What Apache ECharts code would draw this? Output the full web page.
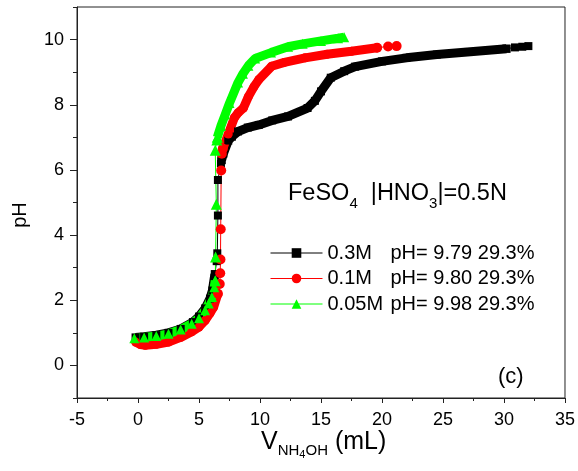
<!DOCTYPE html>
<html>
<head>
<meta charset="utf-8">
<script src="https://cdn.jsdelivr.net/npm/echarts@6/dist/echarts.min.js"></script>
<style>
  html, body { margin: 0; padding: 0; background: #fff; }
  #main { width: 578px; height: 471px; }
</style>
</head>
<body>
<div id="main"></div>
<script>
// legend text parts
var concLabels = ['0.3M', '0.1M', '0.05M'];
var finalPH = ['9.79', '9.80', '9.98'];
var percents = ['29.3%', '29.3%', '29.3%'];

// 0.3M (black squares) : [V (mL), pH]
var blackAcid = [[-0.2, 0.86], [0.5, 0.88], [1.5, 0.93], [2.5, 1.0], [3.5, 1.12], [4.5, 1.33], [5, 1.5], [5.5, 1.75], [5.9, 2.05], [6.1, 2.3], [6.3, 2.8]];
var blackJump = [[6.45, 3.2], [6.5, 3.44], [6.55, 4.6], [6.55, 5.69], [6.8, 6.2]];
var blackBase = [[6.85, 6.3], [7.0, 6.5], [7.4, 6.9], [7.7, 7.02], [8.2, 7.18], [9.0, 7.3], [9.9, 7.38], [11, 7.52], [12.3, 7.64], [13.9, 7.9], [14.5, 8.12], [15, 8.41], [15.8, 8.83], [16.9, 9.03], [17.8, 9.17], [20, 9.33], [22, 9.44], [24.5, 9.54], [27, 9.62], [30.2, 9.72]];
var blackTail = [[30.9, 9.76], [31.5, 9.78], [32, 9.8]];

// 0.1M (red circles)
var redAcid = [[-0.2, 0.72], [0.2, 0.64], [0.6, 0.62], [1.5, 0.65], [2.5, 0.72], [3.5, 0.86], [4.4, 1.03], [5, 1.18], [5.5, 1.38], [5.9, 1.6], [6.2, 1.79], [6.55, 2.2]];
var redJump = [[6.7, 2.5], [6.74, 2.83], [6.76, 3.25], [6.78, 4.18], [6.82, 5.98], [6.87, 6.5]];
var redBase = [[6.95, 6.65], [7.4, 7.1], [7.9, 7.6], [8.2, 7.75], [8.64, 7.9], [9.05, 8.25], [9.5, 8.55], [9.9, 8.77], [10.95, 9.18], [12, 9.3], [13.7, 9.44], [15.5, 9.55], [17.5, 9.64], [19.6, 9.75]];
var redTail = [[20.5, 9.79], [21.2, 9.8]];

// 0.05M (green triangles)
var greenAcid = [[-0.3, 0.83], [0.5, 0.86], [1.5, 0.9], [2.5, 0.97], [3.5, 1.1], [4.4, 1.28], [5, 1.45], [5.5, 1.69], [5.8, 1.9], [6.06, 2.1], [6.25, 2.4], [6.33, 2.6]];
var greenJump = [[6.36, 3.33], [6.42, 4.95], [6.33, 6.6], [6.46, 6.92]];
var greenBase = [[6.5, 7.0], [6.8, 7.35], [7.15, 7.7], [7.5, 8.05], [8.2, 8.68], [8.6, 8.95], [9.05, 9.2], [9.6, 9.42], [10.9, 9.6], [12.3, 9.78], [13.5, 9.87], [15, 9.96], [16.4, 10.04], [16.9, 10.07]];

var font = 'Liberation Sans, Arial, sans-serif';
var chart = echarts.init(document.getElementById('main'));

// dense part of a curve: overlapping markers drawn as a thick band
function band(data, color, symbol, size) {
  return {
    type: 'line', data: data, silent: true,
    symbol: symbol, symbolSize: size, showAllSymbol: true,
    itemStyle: { color: color },
    lineStyle: { color: color, width: 9 },
    emphasis: { disabled: true }
  };
}
function thin(name, data, color, symbol, size) {
  return {
    type: 'line', name: name, data: data, silent: true,
    symbol: symbol, symbolSize: size, showAllSymbol: true,
    itemStyle: { color: color },
    lineStyle: { color: color, width: 1 },
    emphasis: { disabled: true }
  };
}

var names = concLabels.map(function (c, i) { return c + ' pH= ' + finalPH[i] + ' ' + percents[i]; });

var option = {
  animation: false,
  grid: { left: 77, right: 10, top: 7, bottom: 73, show: true, borderColor: '#222', borderWidth: 1 },
  xAxis: {
    type: 'value', min: -5, max: 35, interval: 5,
    axisLine: { onZero: false, lineStyle: { color: '#222', width: 1 } },
    axisTick: { length: 5, lineStyle: { color: '#222' } },
    minorTick: { show: true, splitNumber: 2, length: 3, lineStyle: { color: '#222' } },
    splitLine: { show: false },
    axisLabel: { color: '#000', fontSize: 18, fontFamily: font, margin: 13 }
  },
  yAxis: [{
    type: 'value', min: -1, max: 11,
    axisLine: { onZero: false, lineStyle: { color: '#222', width: 1 } },
    axisTick: { length: 7, customValues: [0, 2, 4, 6, 8, 10], lineStyle: { color: '#222' } },
    axisLabel: { color: '#000', fontSize: 18, fontFamily: font, margin: 13, customValues: [0, 2, 4, 6, 8, 10] },
    splitLine: { show: false }
  }, {
    type: 'value', min: -1, max: 11, position: 'left',
    axisLine: { show: false, onZero: false },
    axisTick: { length: 4, customValues: [-1, 1, 3, 5, 7, 9, 11], lineStyle: { color: '#222' } },
    axisLabel: { show: false },
    splitLine: { show: false }
  }],
  legend: {
    data: names, orient: 'vertical', left: 265, top: 237,
    itemWidth: 52, itemHeight: 12, itemGap: 3.5,
    lineStyle: { width: 1 },
    textStyle: {
      color: '#000', fontSize: 20, fontFamily: font, lineHeight: 22,
      rich: {
        a: { fontSize: 20, fontFamily: font, width: 63, lineHeight: 22 },
        b: { fontSize: 20, fontFamily: font, lineHeight: 22 }
      }
    },
    formatter: function (name) {
      var i = names.indexOf(name);
      return '{a|' + concLabels[i] + '}{b|pH= ' + finalPH[i] + ' ' + percents[i] + '}';
    }
  },
  graphic: [
    {
      type: 'text', left: 288, top: 182,
      style: {
        text: '{m|FeSO}{s|4}{m|  |HNO}{s|3}{m||=0.5N}',
        fill: '#000',
        rich: {
          m: { fontSize: 23.5, fontFamily: font, lineHeight: 34 },
          s: { fontSize: 15, fontFamily: font, lineHeight: 14, verticalAlign: 'bottom' }
        }
      }
    },
    {
      type: 'text', left: 498, top: 366,
      style: { text: '(c)', fill: '#000', font: '22px ' + font }
    },
    {
      type: 'text', x: 20, y: 215, rotation: Math.PI / 2,
      style: { text: 'pH', fill: '#000', font: '20px ' + font, align: 'center', verticalAlign: 'middle', textAlign: 'center', textVerticalAlign: 'middle' }
    },
    {
      type: 'text', left: 261, top: 430,
      style: {
        text: '{v|V}{s|NH}{ss|4}{s|OH}{v| (mL)}',
        fill: '#000',
        rich: {
          v: { fontSize: 25, fontFamily: font, lineHeight: 30, padding: [0, 0, 10, 0], verticalAlign: 'top' },
          s: { fontSize: 15, fontFamily: font, lineHeight: 15, verticalAlign: 'bottom', padding: [0, 0, 2, 0] },
          ss: { fontSize: 11, fontFamily: font, lineHeight: 11, verticalAlign: 'bottom' }
        }
      }
    }
  ],
  series: [
    band(blackAcid, '#000', 'rect', 8),
    band(blackBase, '#000', 'rect', 8),
    thin(names[0], [blackAcid[blackAcid.length - 1]].concat(blackJump, [blackBase[0]]), '#000', 'rect', 8),
    thin('0.3M tail', [blackBase[blackBase.length - 1]].concat(blackTail), '#000', 'rect', 8),
    band(redAcid, '#ff0000', 'circle', 9),
    band(redBase, '#ff0000', 'circle', 9),
    thin(names[1], [redAcid[redAcid.length - 1]].concat(redJump, [redBase[0]]), '#ff0000', 'circle', 10),
    thin('0.1M tail', [redBase[redBase.length - 1]].concat(redTail), '#ff0000', 'circle', 10),
    band(greenAcid, '#00ff00', 'triangle', 10),
    band(greenBase, '#00ff00', 'triangle', 10),
    thin(names[2], [greenAcid[greenAcid.length - 1]].concat(greenJump, [greenBase[0]]), '#00ff00', 'triangle', 11)
  ]
};
chart.setOption(option);
</script>
</body>
</html>
